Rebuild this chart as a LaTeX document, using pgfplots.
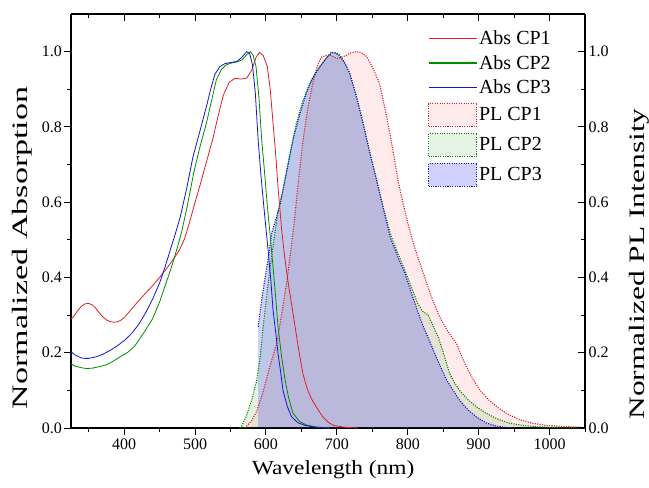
\documentclass[border=0pt]{standalone}
\usepackage{fontspec}
\setmainfont{Liberation Serif}
\usepackage{pgfplots}
\usepackage{pgfplotstable}
\pgfplotsset{compat=1.18}
\definecolor{cred}{RGB}{225,30,35}
\definecolor{cgreen}{RGB}{0,140,0}
\definecolor{cblue}{RGB}{20,20,210}

% absorption spectra
\pgfplotstableread{
x y
325 0.289
330 0.300
335 0.313
340 0.324
345 0.330
350 0.331
355 0.327
360 0.318
365 0.306
370 0.295
375 0.287
380 0.283
385 0.281
390 0.282
395 0.286
400 0.293
410 0.315
420 0.337
430 0.358
440 0.378
450 0.400
460 0.424
470 0.450
478 0.473
485 0.502
492 0.545
500 0.600
507 0.645
515 0.700
525 0.768
532 0.825
540 0.885
548 0.918
556 0.929
565 0.927
573 0.930
580 0.951
586 0.985
591 0.998
596 0.990
602 0.960
606 0.900
610 0.810
614 0.720
617 0.640
622 0.530
626 0.460
631 0.390
636 0.330
641 0.270
646 0.210
652 0.145
658 0.105
664 0.078
671 0.056
680 0.030
688 0.015
695 0.007
710 0.002
730 0.0
}\absone

\pgfplotstableread{
x y
325 0.170
330 0.165
340 0.160
347 0.158
355 0.159
365 0.163
375 0.168
385 0.178
395 0.190
405 0.201
415 0.218
427 0.251
440 0.290
450 0.335
460 0.390
468 0.435
474 0.473
481 0.520
489 0.590
498 0.677
507 0.748
516 0.810
523 0.868
530 0.925
537 0.952
544 0.965
552 0.970
560 0.973
566 0.978
572 0.990
578 1.000
582 0.990
586 0.960
590 0.880
594 0.765
598 0.680
602 0.588
606 0.510
610 0.428
614 0.340
617 0.269
622 0.190
627 0.127
632 0.080
638 0.040
647 0.018
657 0.008
670 0.003
690 0.0
}\abstwo

\pgfplotstableread{
x y
325 0.203
330 0.195
335 0.190
340 0.186
345 0.185
350 0.185
360 0.189
370 0.196
380 0.206
390 0.218
400 0.232
410 0.250
420 0.274
430 0.305
440 0.342
450 0.385
458 0.430
465 0.473
472 0.515
479 0.560
488 0.635
497 0.720
507 0.790
516 0.854
522 0.900
528 0.940
535 0.960
542 0.968
550 0.971
559 0.974
566 0.985
573 1.000
577 0.995
581 0.965
585 0.890
589 0.765
593 0.670
597 0.588
600 0.530
603 0.473
607 0.390
610 0.313
614 0.250
617 0.198
621 0.145
624 0.100
630 0.058
636 0.030
645 0.014
655 0.007
670 0.002
690 0.0
}\absthree

% photoluminescence spectra
\pgfplotstableread{
x y
570 0.0
575 0.010
580 0.020
587 0.045
595 0.090
605 0.160
615 0.224
622 0.300
629 0.384
635 0.470
640 0.550
646 0.660
652 0.760
659 0.850
666 0.916
672 0.960
678 0.985
685 0.990
690 0.991
696 0.985
702 0.982
708 0.986
714 0.991
720 0.997
728 1.000
735 0.997
742 0.987
750 0.960
760 0.916
770 0.830
779 0.739
786 0.660
793 0.600
800 0.545
805 0.510
813 0.460
822 0.411
833 0.350
845 0.295
857 0.255
869 0.224
876 0.190
883 0.162
892 0.130
902 0.100
914 0.075
926 0.056
940 0.038
958 0.022
975 0.013
995 0.007
1020 0.004
1045 0.002
}\plone

\pgfplotstableread{
x y
563 0.0
566 0.007
572 0.030
580 0.075
587 0.127
592 0.190
596 0.269
601 0.350
606 0.428
612 0.510
617 0.575
624 0.632
633 0.720
643 0.810
652 0.870
662 0.916
670 0.945
678 0.965
686 0.985
693 0.997
699 0.995
704 0.987
711 0.970
718 0.943
727 0.885
737 0.810
746 0.735
756 0.659
766 0.580
777 0.508
787 0.460
796 0.419
805 0.375
814 0.331
821 0.310
829 0.300
836 0.270
843 0.242
851 0.195
859 0.145
866 0.120
873 0.100
885 0.075
897 0.056
910 0.040
925 0.025
943 0.013
962 0.007
985 0.003
1010 0.001
1045 0.0
}\pltwo

\pgfplotstableread{
x y
589 0.269
594 0.340
599 0.402
604 0.460
608 0.517
614 0.555
620 0.595
629 0.680
638 0.765
648 0.835
657 0.890
666 0.930
676 0.960
684 0.980
692 0.998
698 0.997
704 0.991
711 0.970
718 0.943
727 0.885
737 0.810
746 0.735
756 0.659
766 0.580
775 0.508
787 0.450
796 0.411
807 0.348
814 0.310
822 0.269
831 0.230
840 0.189
848 0.155
855 0.127
864 0.100
873 0.074
885 0.048
897 0.029
910 0.014
925 0.005
940 0.001
950 0.0
}\plthree

\pgfplotsset{
  absleg/.style={legend image code/.code={\draw[##1] (0pt,0pt) -- (48pt,0pt);}},
  plleg/.style={legend image code/.code={\draw[##1] (0pt,-11.5pt) rectangle (48pt,11.5pt);}},
  pldots/.style={line width=1.1pt, dash pattern=on 1.1pt off 1.3pt},
  common/.style={
    scale only axis, width=514pt, height=414pt,
    at={(0,0)}, anchor=south west,
    xmin=325, xmax=1050, ymin=0, ymax=1.1,
    xtick={400,500,...,1000}, minor xtick={350,450,...,1050},
    ytick={0,0.2,...,1.0}, minor ytick={0.1,0.3,...,0.9},
    major tick length=7pt, minor tick length=4pt,
    axis line style={line width=1.2pt},
    every tick/.style={line width=1pt, black},
    tick label style={font=\fontsize{16}{19}\selectfont},
    /pgf/number format/assume math mode=true,
    /pgf/number format/1000 sep={},
    yticklabel style={/pgf/number format/fixed, /pgf/number format/fixed zerofill, /pgf/number format/precision=1},
  },
}

\begin{document}
\begin{tikzpicture}
\useasboundingbox (-71pt,-60pt) rectangle (578pt,428pt);
\begin{axis}[common,
  axis x line*=bottom, axis y line*=left, tick align=outside,
  yticklabel style={inner sep=2pt},
  xlabel={Wavelength (nm)},
  ylabel={Normalized Absorption},
  xlabel style={font=\fontsize{20}{24}\selectfont, xscale=1.17, at={(ticklabel cs:0.51,4pt)}},
  ylabel style={font=\fontsize{22}{26}\selectfont, xscale=1.55, at={(ticklabel cs:0.435,4pt)}},
  legend style={at={(0.689,0.968)}, anchor=north west, draw=none, fill=none,
    font=\fontsize{20}{23}\selectfont, row sep=6pt,
    nodes={inner sep=1.5pt}},
  legend cell align=left,
]
\addlegendimage{absleg, draw=cred, line width=1.2pt}
\addlegendentry{Abs CP1}
\addlegendimage{absleg, draw=cgreen, line width=1.2pt}
\addlegendentry{Abs CP2}
\addlegendimage{absleg, draw=cblue, line width=1.2pt}
\addlegendentry{Abs CP3}
\addlegendimage{plleg, draw=cred, pldots, fill=red, fill opacity=0.08}
\addlegendentry{PL CP1}
\addlegendimage{plleg, draw=cgreen, pldots, fill=green!55!black, fill opacity=0.1}
\addlegendentry{PL CP2}
\addlegendimage{plleg, draw=cblue, pldots, fill=blue, fill opacity=0.18}
\addlegendentry{PL CP3}

% PL fills
\addplot[forget plot, draw=none, fill=red, fill opacity=0.08] table {\plone} \closedcycle;
\addplot[forget plot, draw=none, fill=green!55!black, fill opacity=0.1] table {\pltwo} \closedcycle;
\addplot[forget plot, draw=none, fill=blue, fill opacity=0.18] table {\plthree} \closedcycle;
% PL outlines
\addplot[forget plot, cred, pldots] table {\plone};
\addplot[forget plot, cgreen, pldots] table {\pltwo};
\addplot[forget plot, cblue, pldots] table {\plthree};
% absorption
\addplot[forget plot, cred, line width=0.8pt] table {\absone};
\addplot[forget plot, cgreen, line width=0.8pt] table {\abstwo};
\addplot[forget plot, cblue, line width=0.8pt] table {\absthree};
\end{axis}

\begin{axis}[common,
  axis x line*=top, axis y line*=right, tick align=inside,
  xticklabels={},
  ylabel={Normalized PL Intensity},
  ylabel style={font=\fontsize{22}{26}\selectfont, xscale=1.43, at={(ticklabel cs:0.396,14pt)}},
]
\end{axis}
\end{tikzpicture}
\end{document}
